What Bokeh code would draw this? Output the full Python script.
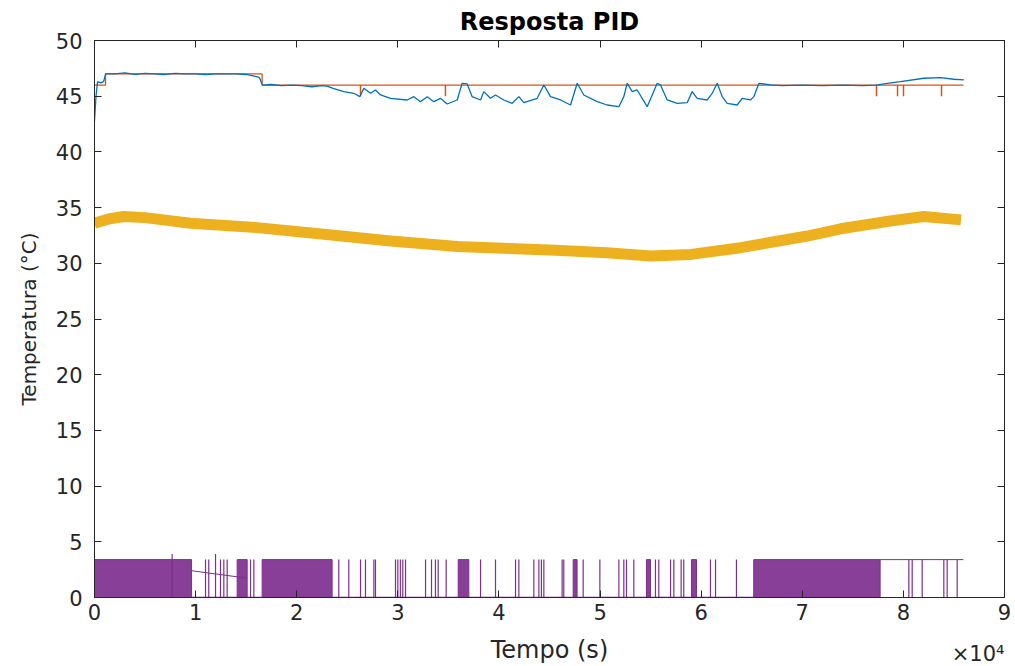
from bokeh.plotting import figure
from bokeh.models import Range1d, LinearAxis, FixedTicker, Title
from bokeh.embed import file_html
from bokeh.resources import INLINE

# ---------------- data ----------------
x_ticks = [0, 10000, 20000, 30000, 40000, 50000, 60000, 70000, 80000, 90000]
x_tick_labels = ["0", "1", "2", "3", "4", "5", "6", "7", "8", "9"]
y_ticks = [0, 5, 10, 15, 20, 25, 30, 35, 40, 45, 50]

# measured temperature (blue)
temp_t = [0, 150, 300, 600, 900, 1100, 2000, 3000, 4000, 5000, 6000, 7000, 8000,
          9000, 10000, 11000, 12000, 13000, 14000, 15000, 15800, 16300, 16600, 17500,
          18500, 19500, 20500, 21500, 22500, 23000, 23600, 24660, 25650, 26240, 26640,
          27300, 27790, 28290, 29270, 30920, 31580, 32240, 32900, 33560, 34220, 34880,
          35870, 36360, 36860, 37350, 38180, 38500, 39160, 39660, 40480, 41310, 41970,
          42460, 43780, 44440, 45100, 46090, 47080, 47740, 48390, 49720, 50700, 51860,
          52350, 52690, 53180, 53670, 54660, 55160, 55650, 55980, 56640, 57630, 58620,
          59110, 59610, 60600, 61090, 61590, 62080, 62570, 63560, 64060, 64880, 65210,
          65710, 66860, 68000, 70000, 72000, 74000, 76000, 77300, 78400, 79710, 82020,
          83670, 84990, 85980]
temp_v = [42.8, 45.0, 46.3, 46.2, 46.3, 47.0, 47.0, 47.1, 46.95, 47.05, 47.0, 46.95, 47.05,
          47.0, 47.0, 46.95, 47.0, 47.0, 47.0, 46.95, 46.8, 46.7, 46.0, 46.05,
          45.95, 46.0, 45.95, 45.85, 45.95, 45.9, 45.7, 45.41, 45.26, 44.96, 45.71,
          45.26, 45.56, 45.11, 44.81, 44.66, 44.96, 44.51, 44.96, 44.51, 44.81, 44.30,
          44.66, 46.16, 46.10, 44.96, 44.66, 45.41, 44.81, 45.11, 44.66, 44.36, 44.96,
          44.42, 44.81, 46.01, 44.96, 44.66, 44.21, 46.16, 45.11, 44.51, 44.21, 44.06,
          44.96, 46.16, 45.41, 45.56, 44.06, 45.11, 46.16, 46.01, 44.66, 44.36, 44.42,
          45.41, 44.81, 44.66, 45.26, 46.16, 44.96, 44.36, 44.21, 44.81, 44.66, 44.96,
          46.16, 46.01, 45.95, 46.0, 45.95, 46.0, 45.95, 46.0, 46.16, 46.31, 46.61,
          46.67, 46.52, 46.46]

# setpoint (orange): step times / levels
sp_t = [0, 1090, 1090, 16580, 16580, 85940]
sp_v = [46, 46, 47, 47, 46, 46]
sp_dip_t = [26310, 34710, 77340, 79420, 80010, 83770]
sp_dip_v = [45.0, 45.0, 45.0, 45.0, 45.0, 45.0]

# ambient temperature (yellow)
amb_t = [0, 1500, 2900, 5000, 9500, 16100, 22700, 29300, 35900, 45100, 50700, 55000,
         59000, 63900, 70500, 73800, 78700, 82000, 85700]
amb_v = [33.6, 34.0, 34.2, 34.1, 33.6, 33.2, 32.6, 32.0, 31.5, 31.2, 30.95, 30.65,
         30.8, 31.4, 32.45, 33.1, 33.8, 34.2, 33.9]

# control signal (purple)
pwm_level = 3.4
pwm_blocks_start = [0, 14110, 16580, 35970, 47340, 54590, 59040, 65200]
pwm_blocks_end = [9600, 15100, 23500, 37020, 47730, 54990, 59540, 77700]
pwm_pulse_t = [7680, 10980, 11300, 11970, 12460, 12790, 13120, 15430, 15760,
               24160, 25150, 26310, 26800, 27630, 27790, 29770, 30000, 30250, 30490,
               30760, 32740, 33330, 33720, 33990, 34780, 38180, 39660, 41640, 41970,
               43450, 43950, 44200, 44440, 46250, 46410, 48330, 49980, 51860, 52350,
               52610, 53340, 55480, 55810, 56970, 57300, 58020, 58280, 60920, 61420,
               63490, 80540, 80870, 81860, 84000, 84330, 85320]
pwm_pulse_peak = [3.9, 3.4, 3.4, 3.9, 3.4, 3.4, 3.4, 3.4, 3.4,
                  3.4, 3.4, 3.4, 3.4, 3.4, 3.4, 3.4, 3.4, 3.4, 3.4,
                  3.4, 3.4, 3.4, 3.4, 3.4, 3.4, 3.4, 3.4, 3.4, 3.4,
                  3.4, 3.4, 3.4, 3.4, 3.4, 3.4, 3.4, 3.4, 3.4, 3.4,
                  3.4, 3.4, 3.4, 3.4, 3.4, 3.4, 3.4, 3.4, 3.4, 3.4,
                  3.4, 3.4, 3.4, 3.4, 3.4, 3.4, 3.4]
pwm_drift_t = [9600, 15000]
pwm_drift_v = [2.4, 1.75]
pwm_base_t = [9600, 77700]
pwm_base_v = [0, 0]
pwm_high_t = [77700, 85940]
pwm_high_v = [3.4, 3.4]

# ---------------- styling ----------------
BLUE = "#0072BD"
ORANGE = "#D95319"
YELLOW = "#EDB120"
PURPLE = "#7E2F8E"
AX = "#262626"
FONT = "DejaVu Sans"

p = figure(width=1015, height=666, output_backend="svg", toolbar_location=None,
           x_range=Range1d(0, 90000), y_range=Range1d(0, 50),
           min_border_left=94, min_border_right=11, min_border_top=37,
           min_border_bottom=68, title="Resposta PID")
p.xgrid.visible = False
p.ygrid.visible = False
p.outline_line_color = AX
p.background_fill_color = "white"
p.border_fill_color = "white"

p.title.align = "center"
p.title.text_font = FONT
p.title.text_font_size = "24px"
p.title.text_font_style = "bold"
p.title.text_color = "black"

xt = FixedTicker(ticks=x_ticks)
yt = FixedTicker(ticks=y_ticks)

xa = p.xaxis[0]
xa.ticker = xt
xa.major_label_overrides = dict(zip(x_ticks, x_tick_labels))
xa.axis_label = "Tempo (s)"
ya = p.yaxis[0]
ya.ticker = yt
ya.axis_label = "Temperatura (°C)"

for ax in (xa, ya):
    ax.major_tick_in = 7
    ax.major_tick_out = 0
    ax.minor_tick_line_color = None
    ax.axis_line_color = AX
    ax.major_tick_line_color = AX
    ax.major_label_text_font = FONT
    ax.major_label_text_font_size = "21px"
    ax.major_label_text_color = AX
    ax.axis_label_text_font = FONT
    ax.axis_label_text_font_style = "normal"
    ax.axis_label_text_color = AX
xa.major_label_standoff = 6
xa.axis_label_text_font_size = "24px"
xa.axis_label_standoff = 13
ya.major_label_standoff = 12
ya.axis_label_text_font_size = "20px"
ya.axis_label_standoff = 12

for loc, tk in (("above", xt), ("right", yt)):
    a = LinearAxis(ticker=tk, major_label_text_font_size="0px", major_label_standoff=0,
                   major_tick_in=7, major_tick_out=0, minor_tick_line_color=None,
                   axis_line_color=AX, major_tick_line_color=AX)
    p.add_layout(a, loc)

# exponent of the x axis, drawn as a right-aligned title pulled up beside the axis label
p.add_layout(Title(text="×10⁴", align="right", vertical_align="top", text_font=FONT,
                   text_font_size="21px", text_font_style="normal", text_color=AX,
                   standoff=-50), "below")

# ---------------- glyphs ----------------
p.line(amb_t, amb_v, line_color=YELLOW, line_width=11, line_join="round")

p.quad(left=pwm_blocks_start, right=pwm_blocks_end, bottom=0, top=pwm_level,
       fill_color=PURPLE, fill_alpha=0.92, line_color=PURPLE, line_width=1)
p.segment(x0=pwm_pulse_t, y0=[0] * len(pwm_pulse_t), x1=pwm_pulse_t, y1=pwm_pulse_peak,
          line_color=PURPLE, line_width=1.2)
p.line(pwm_drift_t, pwm_drift_v, line_color=PURPLE, line_width=1)
p.line(pwm_base_t, pwm_base_v, line_color=PURPLE, line_width=1.5)
p.line(pwm_high_t, pwm_high_v, line_color=PURPLE, line_width=1)

p.line(sp_t, sp_v, line_color=ORANGE, line_width=1.3)
p.segment(x0=sp_dip_t, y0=[46] * len(sp_dip_t), x1=sp_dip_t, y1=sp_dip_v,
          line_color=ORANGE, line_width=1.5)
p.line(temp_t, temp_v, line_color=BLUE, line_width=1.3)

open("out.html", "w").write(file_html(p, INLINE))
